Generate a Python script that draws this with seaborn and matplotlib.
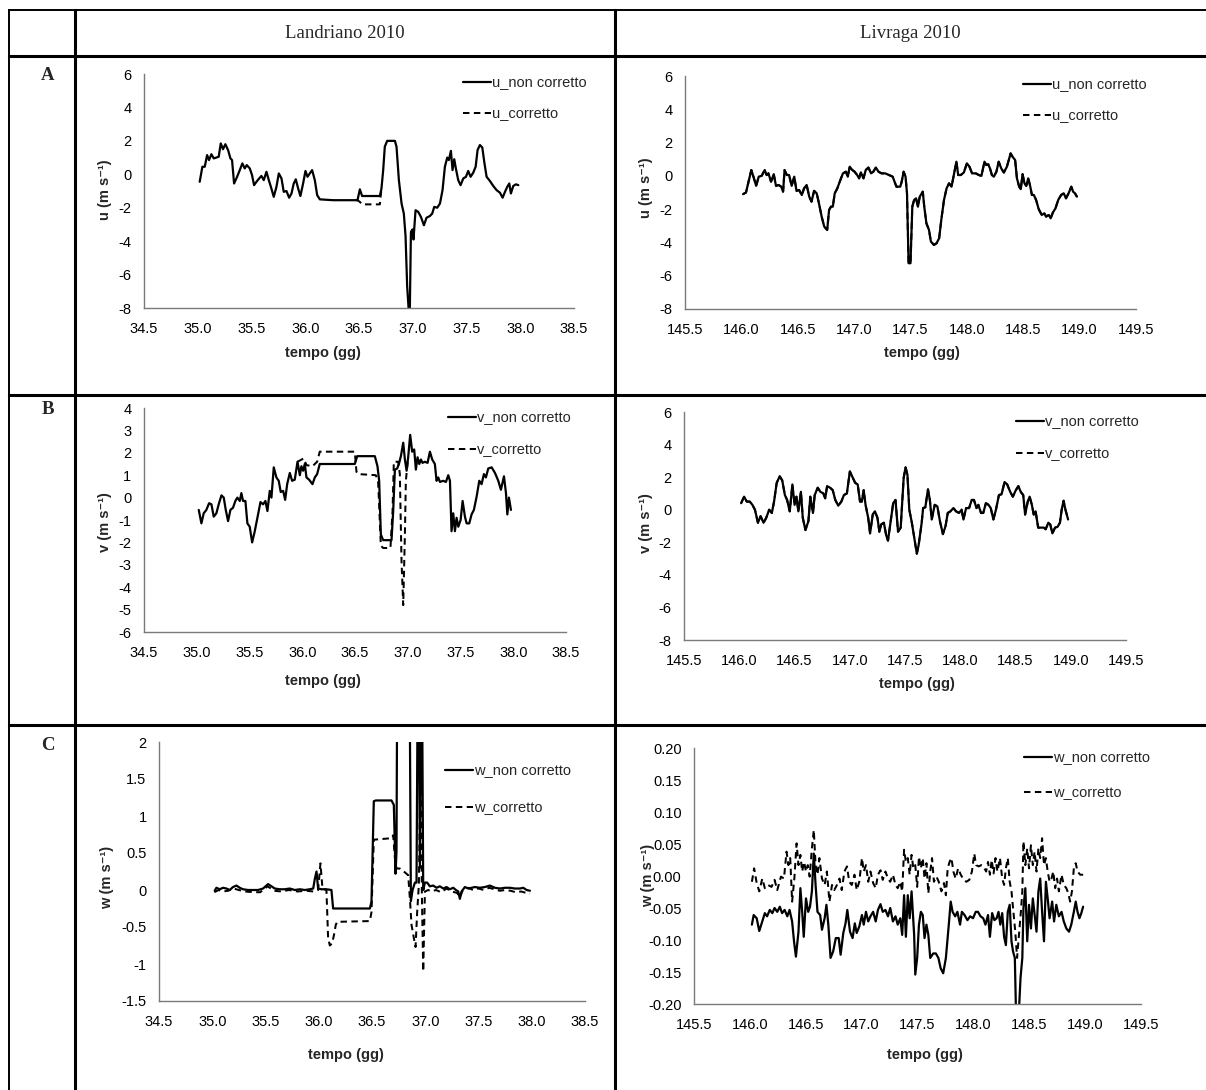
import matplotlib
matplotlib.use('Agg')
import matplotlib.pyplot as plt
import seaborn as sns
from matplotlib.lines import Line2D

sns.set_theme(style='white')
plt.rcParams['font.family'] = ['Liberation Sans', 'DejaVu Sans']

# ---------------- data ----------------
col_titles = ['Landriano 2010', 'Livraga 2010']
row_letters = ['A', 'B', 'C']
x_label = 'tempo (gg)'
y_labels = ['u (m s⁻¹)', 'v (m s⁻¹)', 'w (m s⁻¹)']
leg_u = ['u_non corretto', 'u_corretto']
leg_v = ['v_non corretto', 'v_corretto']
leg_w = ['w_non corretto', 'w_corretto']

xticks_L = [34.5, 35.0, 35.5, 36.0, 36.5, 37.0, 37.5, 38.0, 38.5]
xticklabels_L = ['34.5', '35.0', '35.5', '36.0', '36.5', '37.0', '37.5', '38.0', '38.5']
xticks_R = [145.5, 146.0, 146.5, 147.0, 147.5, 148.0, 148.5, 149.0, 149.5]
xticklabels_R = ['145.5', '146.0', '146.5', '147.0', '147.5', '148.0', '148.5', '149.0', '149.5']
yticks_u = [-8, -6, -4, -2, 0, 2, 4, 6]
yticklabels_u = ['-8', '-6', '-4', '-2', '0', '2', '4', '6']
yticks_vL = [-6, -5, -4, -3, -2, -1, 0, 1, 2, 3, 4]
yticklabels_vL = ['-6', '-5', '-4', '-3', '-2', '-1', '0', '1', '2', '3', '4']
yticks_vR = [-8, -6, -4, -2, 0, 2, 4, 6]
yticklabels_vR = ['-8', '-6', '-4', '-2', '0', '2', '4', '6']
yticks_wL = [-1.5, -1.0, -0.5, 0.0, 0.5, 1.0, 1.5, 2.0]
yticklabels_wL = ['-1.5', '-1', '-0.5', '0', '0.5', '1', '1.5', '2']
yticks_wR = [-0.20, -0.15, -0.10, -0.05, 0.0, 0.05, 0.10, 0.15, 0.20]
yticklabels_wR = ['-0.20', '-0.15', '-0.10', '-0.05', '0.00', '0.05', '0.10', '0.15', '0.20']

# A - Landriano u
AL_t = [35.018,35.043,35.065,35.087,35.105,35.127,35.149,35.173,35.195,35.214,
        35.235,35.257,35.282,35.304,35.319,35.338,35.366,35.391,35.415,35.437,
        35.456,35.484,35.505,35.524,35.546,35.571,35.592,35.614,35.639,35.661,
        35.685,35.707,35.732,35.754,35.779,35.800,35.825,35.850,35.872,35.893,
        35.912,35.934,35.955,35.980,36.002,36.021,36.042,36.064,36.089,36.111,
        36.136,36.259,36.486,36.508,36.529,36.694,36.709,36.725,36.740,36.762,
        36.834,36.849,36.871,36.896,36.917,36.933,36.948,36.961,36.973,36.983,
        36.998,37.007,37.026,37.051,37.076,37.104,37.128,37.159,37.181,37.200,
        37.228,37.253,37.277,37.299,37.321,37.336,37.355,37.370,37.386,37.401,
        37.423,37.445,37.470,37.495,37.516,37.538,37.563,37.585,37.603,37.625,
        37.647,37.665,37.687,37.718,37.749,37.780,37.811,37.836,37.858,37.879,
        37.898,37.913,37.935,37.960,37.982]
AL_u_non = [-0.45,0.45,0.45,1.15,0.85,1.2,0.95,1.0,1.05,1.85,
            1.5,1.8,1.45,0.95,0.85,-0.55,-0.15,0.25,0.65,0.35,
            0.55,0.35,-0.05,-0.65,-0.45,-0.25,-0.1,-0.35,0.15,-0.35,
            -0.85,-1.35,-0.75,0.05,-0.25,-1.05,-1.0,-1.4,-1.15,-0.55,
            -0.3,-0.85,-1.3,-0.55,0.2,-0.15,0.05,0.25,-0.35,-1.25,
            -1.5,-1.55,-1.55,-0.9,-1.3,-1.3,-0.85,0.25,1.65,2.0,
            2.0,1.65,-0.35,-1.75,-2.35,-3.7,-6.7,-8.0,-8.0,-3.45,
            -3.3,-3.9,-2.15,-2.25,-2.55,-3.05,-2.6,-2.5,-2.35,-1.95,
            -2.0,-1.75,-0.95,0.45,1.0,0.85,1.4,0.25,0.9,0.35,
            -0.35,-0.65,-0.25,-0.15,0.2,-0.15,0.1,0.45,1.45,1.75,
            1.6,0.75,-0.15,-0.4,-0.7,-0.95,-1.1,-1.4,-1.05,-0.75,
            -0.55,-1.15,-0.7,-0.6,-0.65]
AL_tc = [36.470, 36.486, 36.508, 36.529, 36.694, 36.709]
AL_u_cor = [-1.55, -1.55, -1.65, -1.8, -1.8, -0.85]

# A - Livraga u
AR_t = [146.015,146.041,146.064,146.088,146.107,146.131,146.154,146.180,146.207,146.224,
        146.240,146.263,146.287,146.307,146.330,146.353,146.370,146.383,146.403,146.423,
        146.446,146.469,146.489,146.512,146.536,146.556,146.579,146.602,146.622,146.645,
        146.668,146.688,146.712,146.735,146.761,146.778,146.795,146.811,146.828,146.851,
        146.878,146.901,146.927,146.944,146.961,146.984,147.004,147.027,147.044,147.060,
        147.083,147.103,147.127,147.150,147.170,147.193,147.216,147.243,147.276,147.309,
        147.342,147.375,147.409,147.422,147.439,147.456,147.469,147.483,147.500,147.516,
        147.532,147.549,147.566,147.582,147.609,147.622,147.641,147.664,147.681,147.708,
        147.731,147.754,147.773,147.797,147.820,147.842,147.864,147.884,147.907,147.923,
        147.946,147.973,148.000,148.023,148.046,148.079,148.106,148.129,148.156,148.172,
        148.189,148.205,148.222,148.239,148.262,148.282,148.305,148.328,148.355,148.371,
        148.388,148.405,148.428,148.444,148.464,148.478,148.494,148.511,148.527,148.544,
        148.561,148.577,148.594,148.614,148.637,148.664,148.687,148.703,148.727,148.743,
        148.763,148.786,148.810,148.836,148.859,148.879,148.902,148.926,148.942,148.959,
        148.976]
AR_u_non = [-1.1,-1.0,-0.35,0.35,-0.05,-0.6,-0.05,0.0,0.35,0.05,
            0.15,-0.35,0.1,-0.6,-0.55,-0.65,-0.95,0.35,0.05,0.05,
            -0.6,-0.05,-0.9,-0.85,-1.15,-0.75,-0.55,-1.25,-1.55,-0.9,
            -1.05,-1.65,-2.45,-3.05,-3.25,-2.05,-1.85,-1.85,-1.05,-0.75,
            -0.25,0.15,0.25,-0.05,0.55,0.35,0.25,0.05,-0.15,0.2,
            -0.15,0.35,0.5,0.15,0.25,0.5,0.25,0.15,0.15,0.05,
            -0.05,-0.65,-0.65,-0.35,0.25,-0.05,-1.05,-5.25,-5.25,-1.85,
            -1.45,-1.35,-1.85,-1.25,-0.95,-1.85,-2.85,-3.25,-3.95,-4.15,
            -4.05,-3.75,-2.65,-1.45,-0.75,-0.45,-0.65,0.05,0.85,0.05,
            0.05,0.2,0.75,0.55,0.15,0.15,0.05,0.0,0.85,0.65,
            0.7,0.45,0.05,-0.05,0.25,0.85,0.45,0.2,0.55,0.95,
            1.35,1.15,0.95,-0.15,-0.65,-0.8,0.1,-0.45,-0.6,-0.15,
            -0.6,-1.15,-1.15,-1.45,-2.0,-2.35,-2.25,-2.45,-2.35,-2.55,
            -2.2,-1.95,-1.45,-1.15,-1.05,-1.35,-1.05,-0.65,-0.95,-1.05,
            -1.25]
AR_tc = AR_t            # corrected series coincides with the uncorrected one
AR_u_cor = AR_u_non

# B - Landriano v
BL_t = [35.019,35.044,35.066,35.091,35.117,35.139,35.161,35.186,35.208,35.234,
        35.256,35.275,35.297,35.319,35.344,35.366,35.385,35.408,35.423,35.439,
        35.461,35.480,35.502,35.525,35.550,35.575,35.604,35.629,35.651,35.670,
        35.692,35.708,35.730,35.755,35.777,35.796,35.819,35.838,35.857,35.882,
        35.904,35.929,35.955,35.977,35.992,36.008,36.024,36.040,36.065,36.097,
        36.119,36.141,36.166,36.293,36.498,36.521,36.688,36.713,36.729,36.745,
        36.767,36.846,36.862,36.878,36.900,36.919,36.935,36.957,36.973,36.989,
        37.004,37.023,37.042,37.061,37.077,37.093,37.109,37.125,37.140,37.162,
        37.188,37.210,37.232,37.257,37.273,37.289,37.305,37.336,37.362,37.384,
        37.400,37.415,37.431,37.447,37.463,37.479,37.501,37.520,37.542,37.558,
        37.583,37.605,37.627,37.653,37.678,37.700,37.722,37.741,37.763,37.795,
        37.827,37.858,37.883,37.912,37.931,37.944,37.959,37.978]
BL_v_non = [-0.55,-1.15,-0.7,-0.55,-0.25,-0.3,-0.85,-0.7,-0.3,0.1,
            0.0,-0.55,-1.05,-0.55,-0.45,-0.15,0.0,-0.15,0.2,-0.15,
            -0.15,-1.15,-1.3,-2.0,-1.5,-0.9,-0.2,-0.3,-0.15,-0.6,
            0.3,0.0,1.35,0.9,0.75,0.25,0.3,-0.1,0.6,1.1,
            0.75,0.8,1.6,1.0,1.4,1.2,1.5,0.9,0.8,0.6,
            0.9,1.05,1.5,1.5,1.5,1.85,1.85,1.4,0.75,-1.65,
            -1.9,-1.9,-0.6,1.25,1.3,1.55,1.85,2.45,1.7,1.2,
            1.8,2.8,2.05,2.15,1.25,1.8,1.5,1.7,1.55,1.6,
            1.55,2.05,1.7,1.5,0.75,0.9,0.7,0.75,0.7,1.0,
            0.75,-1.5,-0.7,-1.5,-0.9,-1.3,-1.0,-0.15,-0.85,-1.15,
            -1.15,-0.75,-0.55,0.05,0.75,0.6,1.05,0.9,1.3,1.35,
            1.1,0.75,0.35,0.95,0.2,-0.75,0.0,-0.55]
BL_tc = [35.955,36.014,36.040,36.097,36.141,36.166,36.498,36.514,36.530,36.697,
         36.719,36.745,36.767,36.836,36.856,36.868,36.910,36.925,36.941,36.957,
         36.973,36.982,37.004]
BL_v_cor = [1.6,1.75,1.45,1.4,1.6,2.05,2.05,1.15,1.05,1.0,
            0.75,-2.15,-2.25,-2.25,-0.6,1.6,1.6,1.05,-2.85,-4.8,
            -1.65,0.75,1.8]

# B - Livraga v
BR_t = [146.017,146.044,146.068,146.095,146.119,146.142,146.169,146.193,146.220,146.244,
        146.271,146.295,146.315,146.339,146.366,146.389,146.413,146.433,146.457,146.481,
        146.501,146.518,146.535,146.558,146.575,146.599,146.626,146.643,146.667,146.683,
        146.710,146.734,146.761,146.778,146.795,146.822,146.846,146.869,146.896,146.924,
        146.947,146.974,147.001,147.025,147.049,147.072,147.093,147.109,147.126,147.143,
        147.167,147.184,147.208,147.228,147.251,147.268,147.285,147.309,147.329,147.346,
        147.370,147.393,147.414,147.437,147.461,147.488,147.505,147.522,147.539,147.562,
        147.589,147.607,147.624,147.651,147.664,147.684,147.708,147.725,147.742,147.769,
        147.793,147.816,147.843,147.867,147.887,147.911,147.938,147.962,147.989,148.012,
        148.029,148.053,148.080,148.104,148.124,148.147,148.164,148.188,148.208,148.232,
        148.256,148.276,148.300,148.323,148.350,148.374,148.401,148.425,148.452,148.476,
        148.503,148.526,148.547,148.570,148.587,148.611,148.628,148.648,148.665,148.682,
        148.705,148.729,148.756,148.773,148.797,148.814,148.834,148.858,148.881,148.902,
        148.918,148.935,148.952,148.976]
BR_v_non = [0.4,0.8,0.5,0.5,0.3,0.0,-0.8,-0.4,-0.8,-0.5,
            0.0,-0.2,0.5,1.65,2.05,1.8,0.9,0.6,-0.1,1.55,
            0.3,0.8,-0.1,1.1,-0.5,-1.25,-0.7,0.8,-0.2,0.9,
            1.35,1.1,1.0,0.7,1.45,1.35,1.2,0.6,0.25,0.5,
            0.9,1.0,2.35,2.0,1.65,1.55,0.5,0.5,1.2,0.3,
            -0.5,-1.45,-0.3,-0.1,-0.5,-1.35,-0.9,-0.8,-1.55,-1.9,
            -0.7,0.4,0.6,-1.35,-1.1,1.95,2.6,2.15,0.0,-0.8,
            -1.95,-2.7,-2.15,-0.8,0.1,0.15,1.25,0.6,-0.6,0.3,
            0.2,-0.7,-1.5,-1.0,-0.2,-0.1,0.1,-0.1,-0.2,0.0,
            -0.6,0.1,0.1,0.6,0.6,0.1,0.3,-0.2,-0.2,0.4,
            0.3,0.1,-0.6,0.0,0.9,0.95,1.7,1.55,1.1,0.8,
            1.2,1.45,1.1,0.9,-0.3,0.5,0.8,0.3,-0.3,-0.1,
            -1.1,-1.1,-1.1,-1.2,-0.8,-0.9,-1.45,-1.1,-1.05,-0.8,
            0.0,0.55,0.0,-0.6]
BR_tc = BR_t            # corrected series coincides with the uncorrected one
BR_v_cor = BR_v_non

# C - Landriano w
CL_t = [35.023,35.039,35.070,35.101,35.133,35.164,35.195,35.227,35.258,35.289,
        35.336,35.383,35.430,35.477,35.524,35.556,35.587,35.634,35.681,35.728,
        35.775,35.822,35.869,35.916,35.948,35.963,35.979,35.994,36.025,36.072,
        36.119,36.135,36.151,36.480,36.495,36.517,36.536,36.683,36.705,36.721,
        36.730,36.740,36.849,36.865,36.881,36.903,36.918,36.934,36.950,36.965,
        36.981,36.997,37.018,37.043,37.075,37.106,37.137,37.169,37.200,37.231,
        37.263,37.288,37.310,37.325,37.341,37.372,37.404,37.435,37.466,37.513,
        37.560,37.607,37.654,37.701,37.748,37.795,37.842,37.889,37.920,37.952,
        37.983]
CL_w_non = [-0.01,0.03,0.01,0.03,0.02,0.0,0.04,0.06,0.03,0.01,
            0.0,0.0,0.0,0.02,0.08,0.05,0.02,0.01,0.01,0.02,
            0.0,0.01,0.0,0.01,0.02,0.15,0.25,0.02,0.01,0.01,
            0.0,-0.25,-0.25,-0.25,-0.16,1.2,1.21,1.21,1.15,0.22,
            0.52,4.0,4.0,-0.15,0.0,0.1,0.1,4.0,0.3,4.0,
            0.0,0.1,0.1,0.05,0.06,0.03,0.05,0.02,0.04,0.01,
            0.03,0.0,-0.02,-0.12,-0.02,0.04,0.02,0.03,0.04,0.03,
            0.04,0.06,0.03,0.02,0.03,0.03,0.02,0.02,0.03,0.0,
            -0.01]
CL_tc = [35.02,35.06,35.10,35.15,35.20,35.25,35.30,35.40,35.45,35.52,
         35.58,35.65,35.72,35.80,35.88,35.95,35.994,36.016,36.035,36.072,
         36.088,36.104,36.126,36.144,36.160,36.173,36.480,36.495,36.517,36.683,
         36.699,36.715,36.730,36.762,36.799,36.840,36.856,36.871,36.893,36.909,
         36.924,36.940,36.950,36.959,36.968,36.981,36.997,37.028,37.06,37.10,
         37.15,37.20,37.25,37.30,37.325,37.35,37.40,37.45,37.50,37.55,
         37.60,37.65,37.70,37.75,37.80,37.85,37.90,37.95,37.983]
CL_w_cor = [-0.03,0.0,-0.02,-0.01,0.02,0.0,-0.02,-0.03,-0.03,0.05,
            -0.01,-0.02,0.0,-0.02,-0.01,-0.02,0.0,0.36,0.02,0.0,
            -0.65,-0.75,-0.72,-0.6,-0.47,-0.43,-0.42,-0.3,0.68,0.7,
            0.74,0.43,0.29,0.29,0.25,0.2,-0.12,-0.47,-0.65,-0.77,
            -0.3,0.07,1.05,1.68,-0.02,-1.1,-0.02,0.0,-0.02,0.0,
            -0.03,0.02,-0.02,-0.04,-0.1,-0.01,0.03,0.0,0.02,0.0,
            0.03,0.01,-0.01,0.0,-0.01,-0.03,-0.02,-0.04,-0.05]

# C - Livraga w
CR_t = [146.018,146.034,146.061,146.084,146.111,146.134,146.154,146.178,146.201,146.221,
        146.245,146.268,146.288,146.311,146.335,146.355,146.378,146.395,146.412,146.435,
        146.452,146.468,146.482,146.502,146.522,146.538,146.555,146.572,146.588,146.605,
        146.629,146.645,146.669,146.685,146.702,146.722,146.745,146.769,146.795,146.812,
        146.836,146.856,146.872,146.896,146.919,146.939,146.956,146.979,147.003,147.019,
        147.039,147.059,147.079,147.103,147.126,147.146,147.169,147.189,147.213,147.236,
        147.256,147.280,147.303,147.323,147.346,147.363,147.380,147.396,147.413,147.430,
        147.447,147.470,147.480,147.497,147.513,147.530,147.547,147.563,147.580,147.597,
        147.614,147.641,147.664,147.687,147.707,147.730,147.754,147.770,147.780,147.797,
        147.814,147.837,147.857,147.881,147.897,147.921,147.947,147.971,147.997,148.021,
        148.041,148.064,148.088,148.108,148.131,148.148,148.168,148.188,148.208,148.225,
        148.241,148.258,148.275,148.291,148.308,148.325,148.341,148.355,148.371,148.381,
        148.408,148.422,148.438,148.448,148.465,148.482,148.498,148.515,148.532,148.548,
        148.565,148.582,148.598,148.615,148.632,148.649,148.665,148.682,148.705,148.722,
        148.742,148.765,148.789,148.809,148.832,148.856,148.876,148.899,148.916,148.932,
        148.949,148.966,148.982]
CR_w_non = [-0.076,-0.061,-0.066,-0.086,-0.071,-0.058,-0.063,-0.053,-0.058,-0.050,
            -0.056,-0.048,-0.058,-0.053,-0.063,-0.053,-0.071,-0.102,-0.126,-0.087,
            -0.019,-0.056,-0.095,-0.035,-0.056,-0.048,-0.024,0.035,-0.014,-0.056,
            -0.061,-0.084,-0.066,-0.045,-0.076,-0.128,-0.118,-0.097,-0.097,-0.123,
            -0.089,-0.074,-0.053,-0.087,-0.097,-0.074,-0.089,-0.079,-0.061,-0.076,
            -0.056,-0.071,-0.063,-0.056,-0.071,-0.053,-0.044,-0.056,-0.053,-0.063,
            -0.050,-0.071,-0.063,-0.076,-0.066,-0.092,-0.030,-0.095,-0.030,-0.066,
            -0.024,-0.092,-0.154,-0.128,-0.076,-0.056,-0.061,-0.097,-0.076,-0.092,
            -0.128,-0.121,-0.121,-0.128,-0.144,-0.152,-0.128,-0.097,-0.076,-0.040,
            -0.056,-0.063,-0.056,-0.076,-0.056,-0.061,-0.069,-0.063,-0.066,-0.056,
            -0.056,-0.063,-0.066,-0.076,-0.061,-0.095,-0.058,-0.069,-0.066,-0.056,
            -0.076,-0.058,-0.095,-0.108,-0.056,-0.045,-0.102,-0.118,-0.128,-0.210,
            -0.210,-0.159,-0.128,-0.050,-0.019,-0.102,-0.045,-0.082,-0.035,-0.061,
            -0.087,-0.024,-0.004,-0.056,-0.102,-0.009,-0.035,-0.066,-0.040,-0.071,
            -0.045,-0.063,-0.056,-0.071,-0.082,-0.087,-0.076,-0.056,-0.040,-0.056,
            -0.066,-0.058,-0.048]
CR_tc = [146.018,146.038,146.061,146.084,146.111,146.134,146.161,146.194,146.221,146.245,
         146.278,146.305,146.328,146.345,146.361,146.378,146.398,146.418,146.435,146.452,
         146.468,146.485,146.502,146.518,146.535,146.555,146.572,146.588,146.605,146.622,
         146.645,146.669,146.689,146.712,146.735,146.755,146.779,146.802,146.822,146.846,
         146.869,146.889,146.912,146.936,146.956,146.979,147.003,147.019,147.039,147.059,
         147.079,147.103,147.126,147.146,147.169,147.189,147.213,147.236,147.256,147.280,
         147.303,147.323,147.346,147.363,147.380,147.396,147.413,147.430,147.447,147.463,
         147.480,147.497,147.513,147.530,147.547,147.563,147.580,147.597,147.614,147.630,
         147.647,147.670,147.690,147.714,147.737,147.754,147.770,147.787,147.804,147.821,
         147.841,147.864,147.887,147.914,147.937,147.964,147.987,148.008,148.024,148.048,
         148.071,148.091,148.114,148.131,148.148,148.164,148.181,148.198,148.215,148.238,
         148.258,148.275,148.291,148.308,148.325,148.341,148.358,148.375,148.391,148.408,
         148.425,148.438,148.448,148.465,148.482,148.498,148.515,148.532,148.548,148.565,
         148.582,148.598,148.615,148.632,148.649,148.665,148.682,148.699,148.715,148.732,
         148.749,148.765,148.789,148.809,148.832,148.849,148.866,148.882,148.899,148.916,
         148.932,148.956,148.982]
CR_w_cor = [-0.009,0.012,-0.011,-0.024,-0.004,-0.019,-0.014,-0.017,-0.006,-0.022,
            -0.001,-0.004,0.038,0.017,0.028,-0.040,-0.004,0.051,0.017,0.033,
            0.007,0.022,0.007,0.017,-0.001,0.043,0.072,0.017,0.002,0.028,
            -0.004,-0.014,0.007,-0.040,-0.014,-0.022,-0.014,-0.004,-0.022,0.007,
            0.015,-0.009,-0.014,0.002,-0.022,-0.009,0.028,0.007,0.017,-0.009,
            0.007,-0.011,-0.019,0.002,0.009,-0.006,0.007,-0.004,-0.009,0.002,
            -0.014,-0.019,-0.009,-0.024,0.041,0.022,0.028,0.002,0.033,0.012,
            0.017,-0.017,0.030,0.012,0.028,-0.004,0.020,-0.027,0.007,0.028,
            -0.009,-0.001,-0.009,-0.024,-0.011,-0.030,0.012,0.022,0.028,0.007,
            -0.004,0.012,0.002,-0.006,-0.009,-0.006,0.007,0.035,0.017,0.015,
            0.017,0.015,0.007,0.022,0.002,0.025,0.004,0.028,0.007,0.028,
            -0.004,-0.014,0.012,0.028,-0.009,-0.024,-0.056,-0.087,-0.128,-0.092,
            -0.056,-0.024,0.054,0.017,0.043,0.012,0.048,0.017,0.038,0.007,
            0.043,0.028,0.059,0.017,0.028,0.007,-0.009,-0.004,0.007,-0.019,
            -0.004,-0.024,0.002,-0.014,-0.019,-0.027,-0.040,-0.024,0.012,0.020,
            0.007,0.002,0.002]

# ---------------- figure ----------------
W, H = 1206, 1090
fig = plt.figure(figsize=(W / 100, H / 100), dpi=100)
fig.patch.set_facecolor('white')

def fx(x):
    return x / W

def fy(y):
    return 1 - y / H

def add_line(x0, y0, x1, y1, lw):
    fig.add_artist(Line2D([fx(x0), fx(x1)], [fy(y0), fy(y1)], transform=fig.transFigure,
                          color='black', linewidth=lw, solid_capstyle='projecting'))

# table grid
add_line(9, 10, 1206, 10, 1.4)
add_line(9, 56, 1206, 56, 2.2)
add_line(9, 395, 1206, 395, 2.2)
add_line(9, 725, 1206, 725, 2.2)
add_line(9, 10, 9, 1090, 1.4)
add_line(75, 10, 75, 1090, 2.2)
add_line(615, 10, 615, 1090, 2.2)

serif = ['Liberation Serif', 'DejaVu Serif']
fig.text(fx(345), fy(33), col_titles[0], family=serif, fontsize=13.5, ha='center', va='center')
fig.text(fx(910), fy(33), col_titles[1], family=serif, fontsize=13.5, ha='center', va='center')
for letter, yy in zip(row_letters, [75, 410, 745]):
    fig.text(fx(48), fy(yy), letter, family=serif, fontsize=13.5, fontweight='bold',
             ha='center', va='center')

FS = 10.5
DASH = (0, (3.2, 2.2))

def panel(box, t_non, y_non, t_cor, y_cor, xlim, xt, xtl, ylim, yt, ytl, ylab, leg,
          leg_px, lspace, xlab_px, ylab_px):
    l, t, r, b = box
    ax = fig.add_axes([fx(l), fy(b), (r - l) / W, (b - t) / H])
    sns.lineplot(x=t_cor, y=y_cor, ax=ax, color='black', linewidth=1.45,
                 estimator=None, sort=False)
    ln_c = ax.lines[-1]
    ln_c.set_linestyle(DASH)
    sns.lineplot(x=t_non, y=y_non, ax=ax, color='black', linewidth=1.6,
                 estimator=None, sort=False)
    ln_n = ax.lines[-1]
    ax.set_xlim(*xlim)
    ax.set_ylim(*ylim)
    ax.set_xticks(xt)
    ax.set_xticklabels(xtl)
    ax.set_yticks(yt)
    ax.set_yticklabels(ytl)
    ax.tick_params(axis='both', length=0, labelsize=FS, colors='black')
    ax.tick_params(axis='x', pad=10)
    ax.tick_params(axis='y', pad=9)
    for s in ['top', 'right']:
        ax.spines[s].set_visible(False)
    for s in ['left', 'bottom']:
        ax.spines[s].set_color('#7a7a7a')
        ax.spines[s].set_linewidth(1.0)
    ax.grid(False)
    ax.set_facecolor('none')
    ax.set_xlabel(x_label, fontsize=FS, fontweight='bold')
    ax.xaxis.set_label_coords((xlab_px[0] - l) / (r - l), (b - (xlab_px[1] - 7)) / (b - t))
    ax.set_ylabel(ylab, fontsize=FS, fontweight='bold')
    ax.yaxis.set_label_coords((ylab_px[0] + 7 - l) / (r - l), (b - ylab_px[1]) / (b - t))
    ax.legend(handles=[ln_n, ln_c], labels=leg, loc='upper left',
              bbox_to_anchor=((leg_px[0] - l) / (r - l), (b - leg_px[1]) / (b - t)),
              frameon=False, borderpad=0, borderaxespad=0, handlelength=1.9,
              handletextpad=0.1, labelspacing=lspace, fontsize=FS)
    return ax

panel((144, 74, 574, 308), AL_t, AL_u_non, AL_tc, AL_u_cor, (34.5, 38.5), xticks_L, xticklabels_L,
      (-8, 6), yticks_u, yticklabels_u, y_labels[0], leg_u, (463, 76), 1.17, (323, 353), (105, 190))
panel((685, 76, 1136, 309), AR_t, AR_u_non, AR_tc, AR_u_cor, (145.5, 149.5), xticks_R, xticklabels_R,
      (-8, 6), yticks_u, yticklabels_u, y_labels[0], leg_u, (1023, 78), 1.17, (922, 353), (646, 188))
panel((144, 408, 566, 632), BL_t, BL_v_non, BL_tc, BL_v_cor, (34.5, 38.5), xticks_L, xticklabels_L,
      (-6, 4), yticks_vL, yticklabels_vL, y_labels[1], leg_v, (448, 411), 1.22, (323, 681), (105, 522))
panel((684, 412, 1126, 640), BR_t, BR_v_non, BR_tc, BR_v_cor, (145.5, 149.5), xticks_R, xticklabels_R,
      (-8, 6), yticks_vR, yticklabels_vR, y_labels[1], leg_v, (1016, 415), 1.22, (917, 684), (646, 523))
panel((159, 742, 585, 1001), CL_t, CL_w_non, CL_tc, CL_w_cor, (34.5, 38.5), xticks_L, xticklabels_L,
      (-1.5, 2.0), yticks_wL, yticklabels_wL, y_labels[2], leg_w, (445, 764), 1.57, (346, 1055), (107, 877))
panel((694, 748, 1141, 1004), CR_t, CR_w_non, CR_tc, CR_w_cor, (145.5, 149.5), xticks_R, xticklabels_R,
      (-0.2, 0.2), yticks_wR, yticklabels_wR, y_labels[2], leg_w, (1024, 751), 1.45, (925, 1055), (648, 875))

fig.savefig('out.png', dpi=100, facecolor='white')
